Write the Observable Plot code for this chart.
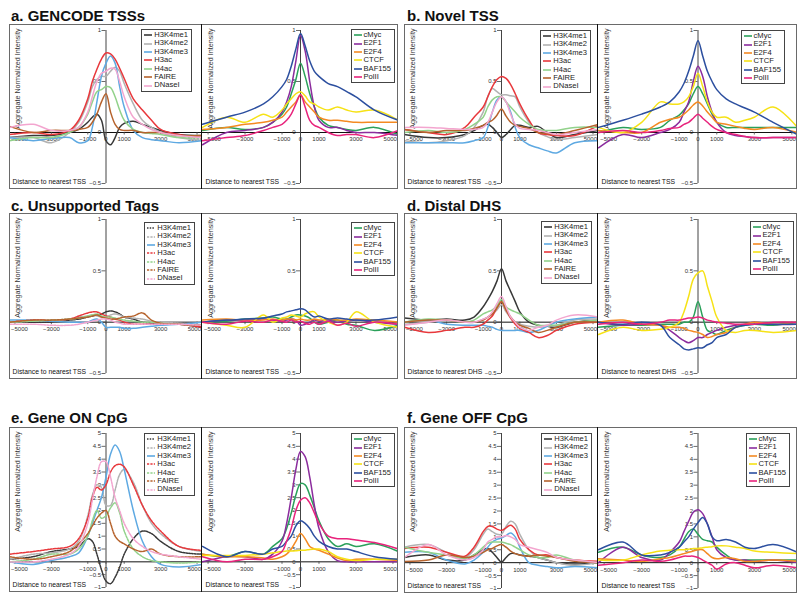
<!DOCTYPE html>
<html><head><meta charset="utf-8">
<script src="https://cdn.jsdelivr.net/npm/d3@7"></script>
<script src="https://cdn.jsdelivr.net/npm/@observablehq/plot@0.6"></script>
<style>
body{margin:0;background:#fff;}
#root{position:relative;width:800px;height:598px;overflow:hidden;background:#fff;font-family:"Liberation Sans",Arial,sans-serif;}
.title{position:absolute;font-weight:bold;font-size:15px;color:#111;line-height:1;white-space:nowrap;}
.box{position:absolute;border:1.5px solid #6a6a6a;box-sizing:border-box;}
.divider{position:absolute;width:0;border-left:1.6px solid #111;}
.sub{position:absolute;}
.sub svg{overflow:hidden;display:block;}
.legend{position:absolute;border:1px solid #444;background:#fff;padding:1px 3px 1px 2px;font-size:7.6px;line-height:8.4px;color:#222;}
.legend .row{display:flex;align-items:center;white-space:nowrap;}
.legend svg{margin-right:2px;display:block;}
</style></head><body><div id="root"></div>
<script>
// ---------- shared axes / categories ----------
const X = [-5300,-4000,-3000,-2000,-1500,-1000,-750,-500,-250,0,250,500,750,1000,1500,2000,2500,3000,4000,5300];
const HIST = ["H3K4me1","H3K4me2","H3K4me3","H3ac","H4ac","FAIRE","DNaseI"];
const TF = ["cMyc","E2F1","E2F4","CTCF","BAF155","PolII"];
const X_TICKS = [-5000,-3000,-1000,0,1000,3000,5000];
const Y_TICKS_SMALL = [-0.5,0,0.5,1];
const Y_TICKS_LARGE = [-1,-0.5,0,0.5,1,1.5,2,2.5,3,3.5,4,4.5,5];
const COLORS = {H3K4me1:"#383838",H3K4me2:"#b2b2b2",H3K4me3:"#5ea9e2",H3ac:"#e8383c",H4ac:"#92d28b",FAIRE:"#b6632d",DNaseI:"#f3a5cf",
  cMyc:"#2aa05a",E2F1:"#8b2c9d",E2F4:"#f48a22",CTCF:"#f6e216",BAF155:"#2c4f9f",PolII:"#e8237c"};

// ---------- a. GENCODE TSSs ----------
const aHist = {
  H3K4me1:[-0.05,-0.03,-0.03,0.0,0.03,0.1,0.15,0.18,0.12,-0.08,-0.12,-0.05,0.05,0.09,0.11,0.08,0.05,0.02,-0.02,-0.03],
  H3K4me2:[-0.05,-0.05,-0.1,0.0,0.1,0.3,0.45,0.52,0.55,0.55,0.6,0.64,0.6,0.48,0.28,0.12,0.05,0.0,-0.05,-0.08],
  H3K4me3:[-0.05,-0.08,-0.06,-0.05,-0.1,-0.08,0.05,0.3,0.55,0.68,0.75,0.68,0.45,0.25,0.02,-0.05,-0.07,-0.08,-0.1,-0.08],
  H3ac:[-0.02,0.0,-0.02,0.02,0.12,0.33,0.5,0.62,0.72,0.78,0.77,0.72,0.63,0.53,0.33,0.22,0.12,0.03,-0.02,-0.05],
  H4ac:[-0.08,-0.05,-0.05,0.0,0.05,0.18,0.3,0.4,0.42,0.45,0.44,0.35,0.22,0.12,0.03,0.0,-0.01,-0.02,-0.05,-0.05],
  FAIRE:[0.06,0.0,0.02,0.02,0.03,0.05,0.1,0.18,0.3,0.38,0.2,0.08,0.03,0.02,0.02,0.0,0.0,0.0,-0.03,-0.03],
  DNaseI:[0.05,0.08,0.02,0.02,0.05,0.2,0.35,0.5,0.58,0.6,0.63,0.62,0.5,0.35,0.15,0.08,0.03,0.0,-0.03,-0.05]
};
const aTF = {
  cMyc:[0.02,0.05,0.03,0.05,0.1,0.18,0.25,0.38,0.52,0.68,0.55,0.38,0.25,0.15,0.07,0.05,0.03,0.02,0.05,-0.02],
  E2F1:[-0.12,0.0,0.02,0.05,0.1,0.2,0.3,0.45,0.7,0.95,0.8,0.5,0.25,0.12,0.05,0.05,0.02,0.0,0.0,-0.03],
  E2F4:[0.03,0.05,0.08,0.1,0.12,0.15,0.2,0.25,0.3,0.37,0.3,0.25,0.2,0.15,0.12,0.12,0.11,0.1,0.1,0.1],
  CTCF:[0.05,0.15,0.1,0.18,0.15,0.22,0.28,0.33,0.38,0.4,0.36,0.3,0.28,0.25,0.22,0.25,0.22,0.2,0.22,0.12],
  BAF155:[0.08,0.15,0.2,0.28,0.35,0.45,0.52,0.65,0.82,0.97,0.85,0.7,0.6,0.55,0.48,0.45,0.4,0.35,0.22,0.12],
  PolII:[-0.08,-0.05,-0.03,0.02,0.05,0.08,0.12,0.18,0.28,0.37,0.25,0.12,0.07,0.05,0.0,-0.03,-0.02,-0.02,-0.05,0.02]
};
// ---------- b. Novel TSS ----------
const bHist = {
  H3K4me1:[-0.02,-0.05,-0.05,-0.02,0.02,0.07,0.08,0.05,0.0,-0.05,-0.02,0.03,0.07,0.07,0.05,0.06,0.0,-0.05,-0.02,0.02],
  H3K4me2:[-0.08,-0.1,-0.08,-0.03,0.05,0.2,0.35,0.43,0.4,0.37,0.37,0.36,0.35,0.25,0.1,0.0,-0.04,-0.07,-0.05,-0.02],
  H3K4me3:[-0.1,-0.1,-0.1,-0.1,-0.08,-0.05,0.05,0.2,0.32,0.35,0.3,0.2,0.05,-0.05,-0.12,-0.15,-0.18,-0.2,-0.1,-0.08],
  H3ac:[0.03,0.0,-0.02,0.05,0.15,0.25,0.35,0.45,0.52,0.55,0.53,0.47,0.38,0.28,0.12,0.0,-0.02,-0.03,-0.03,0.07],
  H4ac:[0.0,0.02,0.0,0.03,0.08,0.15,0.25,0.32,0.35,0.35,0.3,0.25,0.2,0.15,0.08,0.03,0.02,0.02,0.05,0.05],
  FAIRE:[0.03,0.0,0.02,0.02,0.04,0.07,0.1,0.12,0.17,0.23,0.16,0.1,0.07,0.06,0.04,0.0,-0.01,-0.02,0.02,0.08],
  DNaseI:[0.05,0.05,0.04,0.03,0.03,0.05,0.1,0.2,0.3,0.35,0.3,0.18,0.08,0.04,0.03,0.02,0.0,-0.02,0.0,0.03]
};
const bTF = {
  cMyc:[0.0,0.05,0.03,0.05,0.12,0.17,0.22,0.28,0.38,0.45,0.38,0.28,0.18,0.1,0.05,0.05,0.05,0.05,0.05,0.05],
  E2F1:[-0.15,-0.02,-0.05,0.0,0.03,0.1,0.2,0.3,0.5,0.65,0.55,0.35,0.2,0.1,0.0,-0.03,-0.04,-0.05,-0.05,-0.05],
  E2F4:[0.02,0.0,0.0,0.1,0.13,0.15,0.18,0.22,0.27,0.3,0.26,0.2,0.15,0.1,0.08,0.06,0.04,0.03,0.05,0.0],
  CTCF:[0.05,0.0,0.1,0.3,0.28,0.28,0.3,0.35,0.45,0.58,0.45,0.3,0.2,0.15,0.15,0.1,0.12,0.15,0.25,0.05],
  BAF155:[0.05,0.12,0.18,0.25,0.3,0.4,0.48,0.6,0.75,0.9,0.75,0.6,0.5,0.42,0.33,0.28,0.24,0.2,0.1,-0.02],
  PolII:[0.0,0.02,0.0,0.02,0.04,0.05,0.08,0.1,0.14,0.18,0.14,0.1,0.06,0.03,0.0,-0.02,-0.04,-0.05,-0.05,-0.05]
};
// ---------- c. Unsupported Tags ----------
const cHist = {
  H3K4me1:[0.0,0.0,0.0,0.02,0.03,0.05,0.06,0.07,0.08,0.1,0.11,0.1,0.08,0.05,0.03,0.0,-0.01,-0.02,-0.02,-0.05],
  H3K4me2:[0.0,0.01,0.02,0.03,0.05,0.06,0.07,0.06,0.05,0.05,0.07,0.08,0.07,0.05,0.04,0.03,0.01,0.0,-0.01,-0.03],
  H3K4me3:[0.02,0.02,0.01,0.0,0.0,0.0,0.02,0.03,0.0,-0.05,-0.05,-0.05,-0.05,-0.06,-0.06,-0.05,-0.04,-0.03,-0.02,0.0],
  H3ac:[0.0,0.02,0.02,0.03,0.06,0.09,0.1,0.1,0.08,0.06,0.05,0.03,0.02,0.0,-0.02,-0.02,-0.02,-0.02,-0.02,-0.05],
  H4ac:[0.0,0.01,0.02,0.03,0.04,0.06,0.07,0.08,0.06,0.05,0.05,0.04,0.03,0.02,0.01,0.0,0.0,-0.01,-0.02,-0.03],
  FAIRE:[0.0,0.02,0.02,0.03,0.04,0.05,0.06,0.07,0.05,0.04,0.03,0.03,0.04,0.05,0.06,0.09,0.02,-0.01,-0.02,-0.03],
  DNaseI:[-0.02,-0.02,-0.03,-0.03,-0.02,0.0,0.01,0.02,0.03,0.03,0.02,0.0,-0.01,-0.02,-0.02,-0.02,-0.02,-0.02,-0.02,-0.03]
};
const cTF = {
  cMyc:[0.0,0.01,0.03,0.04,0.05,0.03,0.03,0.05,0.07,0.07,0.06,0.04,0.0,-0.02,0.0,0.02,-0.02,-0.03,-0.08,-0.03],
  E2F1:[0.0,0.02,0.02,0.03,0.02,0.01,0.02,0.03,0.02,-0.03,-0.02,0.0,0.02,0.01,0.02,0.0,0.01,0.02,0.0,-0.02],
  E2F4:[0.02,0.03,0.02,0.02,0.03,0.02,0.03,0.03,0.02,0.03,0.02,0.02,0.03,0.02,0.03,0.02,0.02,0.03,0.02,0.0],
  CTCF:[0.0,-0.03,-0.05,0.07,0.0,0.04,0.05,0.07,0.06,0.05,0.08,0.1,0.1,0.05,0.0,-0.03,0.0,0.1,0.0,-0.05],
  BAF155:[0.0,0.02,0.03,0.04,0.06,0.08,0.1,0.11,0.12,0.13,0.12,0.08,0.05,0.06,0.03,0.04,0.03,0.02,0.02,0.05],
  PolII:[0.0,-0.02,0.01,0.0,0.02,0.01,0.0,0.02,0.0,0.01,-0.01,-0.02,0.0,-0.02,0.01,-0.03,-0.01,-0.04,0.0,-0.02]
};
// ---------- d. Distal DHS ----------
const dHist = {
  H3K4me1:[0.04,0.02,0.03,0.02,0.05,0.15,0.22,0.3,0.4,0.52,0.4,0.3,0.2,0.1,0.0,-0.03,-0.04,-0.05,0.0,0.02],
  H3K4me2:[-0.02,0.0,0.02,0.0,0.0,0.03,0.05,0.08,0.12,0.17,0.1,0.04,0.0,-0.02,-0.04,-0.05,-0.04,-0.03,0.02,0.03],
  H3K4me3:[0.0,0.02,-0.02,-0.03,-0.03,-0.03,-0.04,-0.05,-0.07,-0.08,-0.08,-0.08,-0.08,-0.08,-0.1,-0.08,-0.04,0.0,0.03,0.05],
  H3ac:[-0.05,-0.1,-0.08,-0.05,-0.05,-0.02,0.02,0.06,0.14,0.2,0.12,0.04,-0.02,-0.06,-0.1,-0.15,-0.13,-0.08,-0.02,0.0],
  H4ac:[0.0,0.03,0.02,0.0,0.02,0.08,0.1,0.12,0.16,0.22,0.15,0.12,0.1,0.08,0.02,-0.03,-0.03,-0.03,0.0,0.02],
  FAIRE:[0.0,0.02,0.02,0.0,0.0,0.02,0.05,0.08,0.14,0.2,0.12,0.05,0.0,-0.03,-0.06,-0.1,-0.08,-0.05,0.0,0.0],
  DNaseI:[-0.03,0.0,0.02,0.0,0.0,0.03,0.05,0.1,0.18,0.25,0.15,0.05,0.0,-0.05,-0.08,-0.05,-0.03,0.02,0.07,0.05]
};
const dTF = {
  cMyc:[-0.05,-0.03,-0.03,-0.02,-0.02,-0.02,0.0,0.0,0.05,0.2,0.05,-0.08,-0.1,-0.12,-0.08,-0.05,-0.03,-0.02,-0.03,0.0],
  E2F1:[0.0,-0.03,-0.02,-0.03,-0.08,-0.15,-0.18,-0.2,-0.18,-0.15,-0.15,-0.12,-0.1,-0.08,-0.05,-0.03,-0.02,0.0,-0.02,-0.02],
  E2F4:[0.0,0.02,-0.02,-0.03,-0.05,-0.05,-0.06,-0.08,-0.09,-0.1,-0.12,-0.15,-0.14,-0.12,-0.1,-0.05,-0.02,0.0,-0.02,0.0],
  CTCF:[-0.12,-0.05,-0.08,-0.07,-0.05,0.0,0.1,0.25,0.42,0.48,0.5,0.35,0.2,0.05,-0.08,-0.1,-0.08,-0.08,-0.1,-0.08],
  BAF155:[0.0,-0.02,0.0,-0.03,-0.15,-0.22,-0.26,-0.27,-0.26,-0.25,-0.25,-0.22,-0.2,-0.15,-0.12,-0.05,-0.03,-0.02,-0.02,-0.02],
  PolII:[-0.02,0.0,-0.02,0.0,0.02,0.02,0.03,0.04,0.04,0.05,0.04,0.02,0.01,0.0,-0.01,-0.02,-0.02,-0.02,0.0,0.0]
};
// ---------- e. Gene ON CpG ----------
const eHist = {
  H3K4me1:[0.1,0.2,0.4,0.5,0.6,0.9,0.8,0.3,-0.3,-0.75,-0.85,-0.6,-0.2,0.3,0.9,1.2,1.1,0.8,0.4,0.3],
  H3K4me2:[0.1,0.3,0.35,0.5,0.8,1.8,2.6,3.0,2.9,2.2,2.2,2.8,3.4,3.6,3.1,2.2,1.5,1.1,0.6,0.4],
  H3K4me3:[0.0,-0.1,0.05,0.2,0.35,1.0,1.5,2.0,2.5,3.3,4.2,4.55,4.3,3.6,2.0,0.8,0.2,-0.1,-0.2,-0.1],
  H3ac:[0.3,0.4,0.5,0.6,0.9,1.7,2.5,2.9,2.8,3.0,3.5,3.75,3.8,3.7,3.0,2.2,1.6,1.2,0.6,0.45],
  H4ac:[0.0,0.1,0.3,0.3,0.5,1.0,1.6,2.0,1.7,1.8,2.1,2.3,1.9,1.2,0.5,0.2,0.05,0.0,-0.05,0.0],
  FAIRE:[0.2,0.1,0.2,0.4,0.7,1.1,1.4,1.7,1.9,2.0,1.5,1.0,0.8,0.7,0.5,0.4,0.5,0.3,0.2,0.2],
  DNaseI:[0.0,0.0,0.1,0.3,0.6,1.5,2.4,3.3,3.9,3.9,3.3,2.5,2.0,1.5,0.9,0.6,0.4,0.3,0.2,0.1]
};
const eTF = {
  cMyc:[0.3,0.2,0.4,0.3,0.6,0.9,1.3,1.9,2.6,3.05,3.0,2.6,2.1,1.6,0.9,0.6,0.7,0.6,0.7,0.4],
  E2F1:[0.0,0.2,0.2,0.1,0.3,0.8,1.5,2.5,3.6,4.3,4.1,3.3,2.2,1.3,0.4,0.05,0.0,0.0,0.0,0.0],
  E2F4:[0.3,0.2,0.2,0.15,0.1,0.2,0.3,0.5,0.8,1.1,0.9,0.6,0.5,0.45,0.3,0.15,0.05,0.1,0.1,0.05],
  CTCF:[0.25,0.25,0.25,0.3,0.35,0.4,0.42,0.42,0.43,0.45,0.45,0.48,0.5,0.5,0.4,0.2,0.1,0.05,0.1,0.1],
  BAF155:[0.6,0.2,0.4,0.3,0.5,0.6,0.8,1.0,1.4,1.6,1.5,1.3,1.0,0.8,0.6,0.5,0.5,0.4,0.2,0.1],
  PolII:[0.2,0.0,0.1,0.1,0.2,0.4,0.8,1.3,2.0,2.4,2.5,2.3,1.9,1.5,1.0,0.9,0.9,0.85,0.75,0.5]
};
// ---------- f. Gene OFF CpG ----------
const fHist = {
  H3K4me1:[0.2,0.3,0.1,0.1,0.3,0.5,0.55,0.4,0.2,0.02,0.2,0.35,0.35,0.3,0.25,0.2,0.1,0.0,-0.05,0.0],
  H3K4me2:[0.6,0.7,0.4,0.2,0.5,1.1,1.3,1.2,1.1,1.1,1.4,1.6,1.5,1.1,0.5,0.2,0.1,0.0,-0.1,0.0],
  H3K4me3:[0.4,0.4,0.1,-0.05,0.1,0.4,0.6,0.8,0.9,0.95,1.05,1.15,1.0,0.6,0.0,-0.1,-0.15,-0.2,-0.15,-0.2],
  H3ac:[0.55,0.6,0.4,0.25,0.6,1.2,1.4,1.4,1.3,1.25,1.35,1.45,1.3,0.9,0.5,0.3,0.3,0.2,0.1,0.05],
  H4ac:[0.6,0.4,0.3,0.15,0.3,0.6,0.75,0.8,0.8,0.8,0.75,0.7,0.6,0.5,0.3,0.2,0.2,0.3,0.1,0.0],
  FAIRE:[0.05,0.1,0.3,0.2,0.25,0.4,0.5,0.55,0.65,0.7,0.6,0.45,0.35,0.3,0.25,0.3,0.25,0.2,0.05,0.0],
  DNaseI:[0.2,0.7,0.3,0.1,0.2,0.5,0.8,0.9,1.0,1.0,1.05,1.0,0.9,0.7,0.6,0.5,0.4,0.2,0.1,0.0]
};
const fTF = {
  cMyc:[0.4,0.6,0.3,0.2,0.3,0.6,0.9,1.2,1.3,1.1,0.9,0.85,0.8,0.6,0.3,0.1,0.1,0.1,0.1,0.1],
  E2F1:[0.0,0.6,0.2,0.1,0.4,0.8,1.2,1.6,1.95,2.05,1.9,1.5,1.0,0.5,0.2,0.1,0.1,0.05,0.1,0.0],
  E2F4:[0.15,0.1,0.05,0.15,0.2,0.3,0.35,0.4,0.45,0.5,0.5,0.35,0.2,0.15,0.2,0.15,0.05,0.05,0.1,0.05],
  CTCF:[0.1,0.1,0.3,0.45,0.48,0.5,0.5,0.52,0.55,0.55,0.58,0.6,0.62,0.65,0.65,0.6,0.55,0.45,0.4,0.35],
  BAF155:[0.5,0.8,0.3,0.3,0.4,0.6,0.8,1.0,1.3,1.55,1.75,1.5,1.0,0.85,0.9,0.8,0.6,0.55,0.7,0.4],
  PolII:[-0.1,0.0,0.1,0.05,0.1,0.2,0.25,0.25,0.25,0.2,0.1,0.0,-0.1,-0.25,-0.05,0.0,-0.1,-0.2,-0.1,-0.2]
};

// ---------- layout ----------
const PANELS = [
  {title:"a. GENCODE TSSs", tx:11, ty:8, left:9, split:202, right:398, top:24, bottom:189, hist:aHist, tf:aTF, big:false, dashed:false, xl:"Distance to nearest TSS", lo:[10,3], lt:5},
  {title:"b. Novel TSS", tx:407, ty:8, left:404, split:598, right:797, top:24, bottom:189, hist:bHist, tf:bTF, big:false, dashed:false, xl:"Distance to nearest TSS", lo:[7,12], lt:6},
  {title:"c. Unsupported Tags", tx:11, ty:198, left:9, split:202, right:398, top:213, bottom:379, hist:cHist, tf:cTF, big:false, dashed:true, xl:"Distance to nearest TSS", lo:[7,3], lt:9},
  {title:"d. Distal DHS", tx:407, ty:198, left:404, split:598, right:797, top:213, bottom:379, hist:dHist, tf:dTF, big:false, dashed:false, xl:"Distance to nearest DHS", lo:[6,3], lt:8},
  {title:"e. Gene ON CpG", tx:11, ty:410, left:9, split:202, right:398, top:427, bottom:592, hist:eHist, tf:eTF, big:true, dashed:true, xl:"Distance to nearest TSS", lo:[7,3], lt:6},
  {title:"f. Gene OFF CpG", tx:407, ty:410, left:404, split:598, right:797, top:427, bottom:593, hist:fHist, tf:fTF, big:true, dashed:false, xl:"Distance to nearest TSS", lo:[6,7], lt:6}
];

const root = document.getElementById("root");
const fmt = d => d < 0 ? "\u2212" + Math.abs(d) : String(d);
const FONT = "Liberation Sans, Arial, sans-serif";

function dashFor(name, dashed) {
  if (!dashed || !HIST.includes(name) || name === "H3K4me3") return null;
  return name === "H3K4me1" ? "1.5,1.2" : "2.2,1.2";
}

function subplot(data, names, w, h, p) {
  const ydom = p.big ? [-1, 5] : [-0.5, 1];
  const yticks = p.big ? Y_TICKS_LARGE : Y_TICKS_SMALL;
  const pad = p.big ? [6, 5] : [6, 6];
  const pxPerX = w / 10600;
  const pxPerY = (h - pad[0] - pad[1]) / (ydom[1] - ydom[0]);
  const inner = X_TICKS.filter(d => Math.abs(d) < 5000);
  const marks = [
    Plot.ruleY([0], {stroke: "#111", strokeWidth: 1}),
    Plot.ruleX([0], {y1: ydom[0], y2: ydom[1], stroke: "#444", strokeWidth: 1}),
    Plot.ruleY(yticks, {x1: -4 / pxPerX, x2: 0, stroke: "#444", strokeWidth: 0.8}),
    Plot.text(yticks, {x: 0, y: d => d, text: fmt, dx: -5, textAnchor: "end", fontSize: 6, fill: "#333"}),
    Plot.ruleX(X_TICKS, {y1: 0, y2: -2.5 / pxPerY, stroke: "#444", strokeWidth: 0.8}),
    Plot.text(inner, {x: d => d, y: 0, dy: 7, text: fmt, fontSize: 6, fill: "#333"}),
    Plot.text([-5000], {x: d => d, y: 0, dy: 7, dx: -4, text: fmt, textAnchor: "start", fontSize: 6, fill: "#333"}),
    Plot.text([5000], {x: d => d, y: 0, dy: 7, dx: 4, text: fmt, textAnchor: "end", fontSize: 6, fill: "#333"}),
    Plot.text(["Aggregate Normalized Intensity"], {frameAnchor: "top-left", rotate: -90, textAnchor: "end", dx: 5, dy: 4, fontSize: 7.2, fill: "#333"}),
    Plot.text([p.xl], {frameAnchor: "bottom-left", textAnchor: "start", dx: 3, dy: -6, fontSize: 6.8, fill: "#111"})
  ];
  for (const n of names) {
    const rows = X.map((x, i) => ({x, y: data[n][i]}));
    marks.push(Plot.line(rows, {x: "x", y: "y", stroke: COLORS[n], strokeWidth: 1.5, curve: "catmull-rom",
      strokeDasharray: dashFor(n, p.dashed)}));
  }
  return Plot.plot({
    width: w, height: h, margin: 0,
    x: {domain: [-5300, 5300], range: [0, w], axis: null},
    y: {domain: ydom, range: [h - pad[1], pad[0]], axis: null},
    style: {fontFamily: FONT, background: "transparent", overflow: "hidden"},
    marks
  });
}

function legend(names, p, subRight, offset) {
  const lg = document.createElement("div");
  lg.className = "legend";
  lg.style.right = (800 - subRight + offset) + "px";
  lg.style.top = (p.top + p.lt) + "px";
  for (const n of names) {
    const row = document.createElement("div");
    row.className = "row";
    const dash = dashFor(n, p.dashed);
    row.innerHTML = `<svg width="8" height="4"><line x1="0" y1="2" x2="8" y2="2" stroke="${COLORS[n]}" stroke-width="1.6" ${dash ? `stroke-dasharray="${dash}"` : ""}/></svg><span>${n}</span>`;
    lg.appendChild(row);
  }
  root.appendChild(lg);
}

for (const p of PANELS) {
  const t = document.createElement("div");
  t.className = "title"; t.textContent = p.title;
  t.style.left = p.tx + "px"; t.style.top = p.ty + "px";
  root.appendChild(t);
  const h = p.bottom - p.top;
  const subs = [[p.left, p.split, p.hist, HIST, p.lo[0]], [p.split, p.right, p.tf, TF, p.lo[1]]];
  for (const [l, r, data, names, off] of subs) {
    const d = document.createElement("div");
    d.className = "sub";
    d.style.left = l + "px"; d.style.top = p.top + "px";
    d.appendChild(subplot(data, names, r - l, h, p));
    root.appendChild(d);
  }
  const box = document.createElement("div");
  box.className = "box";
  box.style.left = p.left + "px"; box.style.top = p.top + "px";
  box.style.width = (p.right - p.left) + "px"; box.style.height = h + "px";
  root.appendChild(box);
  const dv = document.createElement("div");
  dv.className = "divider";
  dv.style.left = (p.split - 0.8) + "px"; dv.style.top = p.top + "px"; dv.style.height = h + "px";
  root.appendChild(dv);
  for (const [l, r, data, names, off] of subs) legend(names, p, r, off);
}
</script></body></html>
